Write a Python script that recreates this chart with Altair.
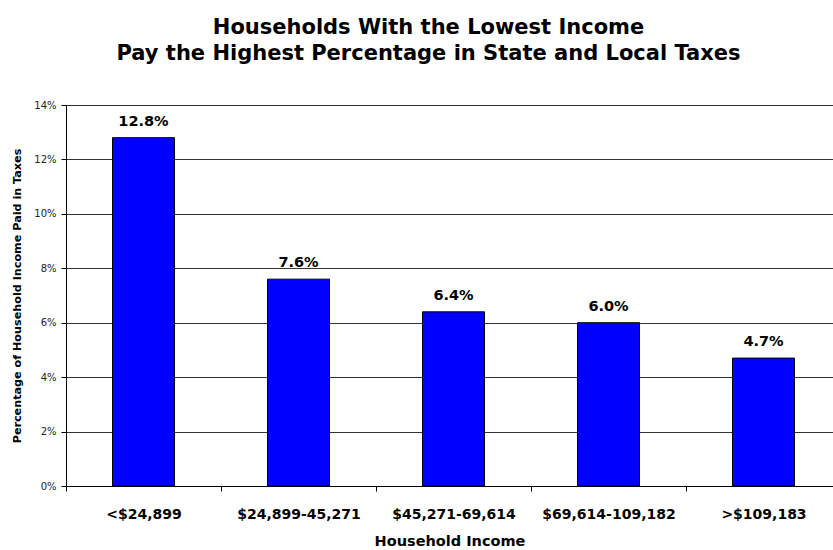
import json
import altair as alt
import pandas as pd

categories = ["<$24,899", "$24,899-45,271", "$45,271-69,614", "$69,614-109,182", ">$109,183"]
values = [12.8, 7.6, 6.4, 6.0, 4.7]
y_ticks = [0, 2, 4, 6, 8, 10, 12, 14]

df = pd.DataFrame({
    "idx": list(range(len(categories))),
    "cat": categories,
    "val": values,
    "lab": [f"{v:.1f}%" for v in values],
})

FONT = "DejaVu Sans"
W, H = 767, 381
STEP = 155.0
x_domain = [-0.5, -0.5 + W / STEP]
boundaries = [i - 0.5 for i in range(len(categories))]
cat_arr = json.dumps(categories)

x_enc = alt.X(
    "idx:Q",
    scale=alt.Scale(domain=x_domain, nice=False, zero=False, padding=0),
    axis=alt.Axis(
        values=boundaries,
        labelExpr=f"{cat_arr}[round(datum.value + 0.5)]",
        labelOffset=STEP / 2,
        labelFlush=False,
        labelOverlap=False,
        grid=False,
        tickSize=5,
        tickColor="black",
        domainColor="black",
        labelFont=FONT,
        labelFontSize=14,
        labelFontWeight="bold",
        labelColor="black",
        labelPadding=16,
        title="Household Income",
        titleFont=FONT,
        titleFontSize=14.5,
        titleFontWeight="bold",
        titleColor="black",
        titlePadding=13,
    ),
)

y_enc = alt.Y(
    "val:Q",
    scale=alt.Scale(domain=[0, 14], nice=False),
    axis=alt.Axis(
        values=y_ticks,
        labelExpr="datum.value + '%'",
        grid=True,
        gridColor="#333333",
        gridWidth=1,
        tickSize=5,
        tickColor="black",
        domainColor="black",
        labelFont=FONT,
        labelFontSize=10,
        labelColor="#222222",
        labelPadding=5,
        title="Percentage of Household Income Paid in Taxes",
        titleFont=FONT,
        titleFontSize=11.2,
        titleFontWeight="bold",
        titleColor="black",
        titlePadding=11,
    ),
)

bars = alt.Chart(df).mark_bar(size=62, color="#0000FF", stroke="black", strokeWidth=1).encode(
    x=x_enc, y=y_enc
)

texts = alt.Chart(df).mark_text(
    font=FONT, fontSize=14.5, fontWeight="bold", baseline="bottom", dy=-9, color="black"
).encode(x=alt.X("idx:Q"), y=alt.Y("val:Q"), text="lab:N")

chart = alt.layer(bars, texts).properties(
    width=W,
    height=H,
    title=alt.TitleParams(
        text=["Households With the Lowest Income", "Pay the Highest Percentage in State and Local Taxes"],
        font=FONT,
        fontSize=21,
        fontWeight="bold",
        color="black",
        anchor="middle",
        frame="group",
        dx=-21,
        offset=36,
        lineHeight=26,
    ),
    autosize=alt.AutoSizeParams(type="none"),
    padding={"left": 66, "top": 105, "right": 0, "bottom": 62},
).configure_view(stroke=None)

chart.save("out.html", embed_options={"renderer": "svg", "actions": False})
